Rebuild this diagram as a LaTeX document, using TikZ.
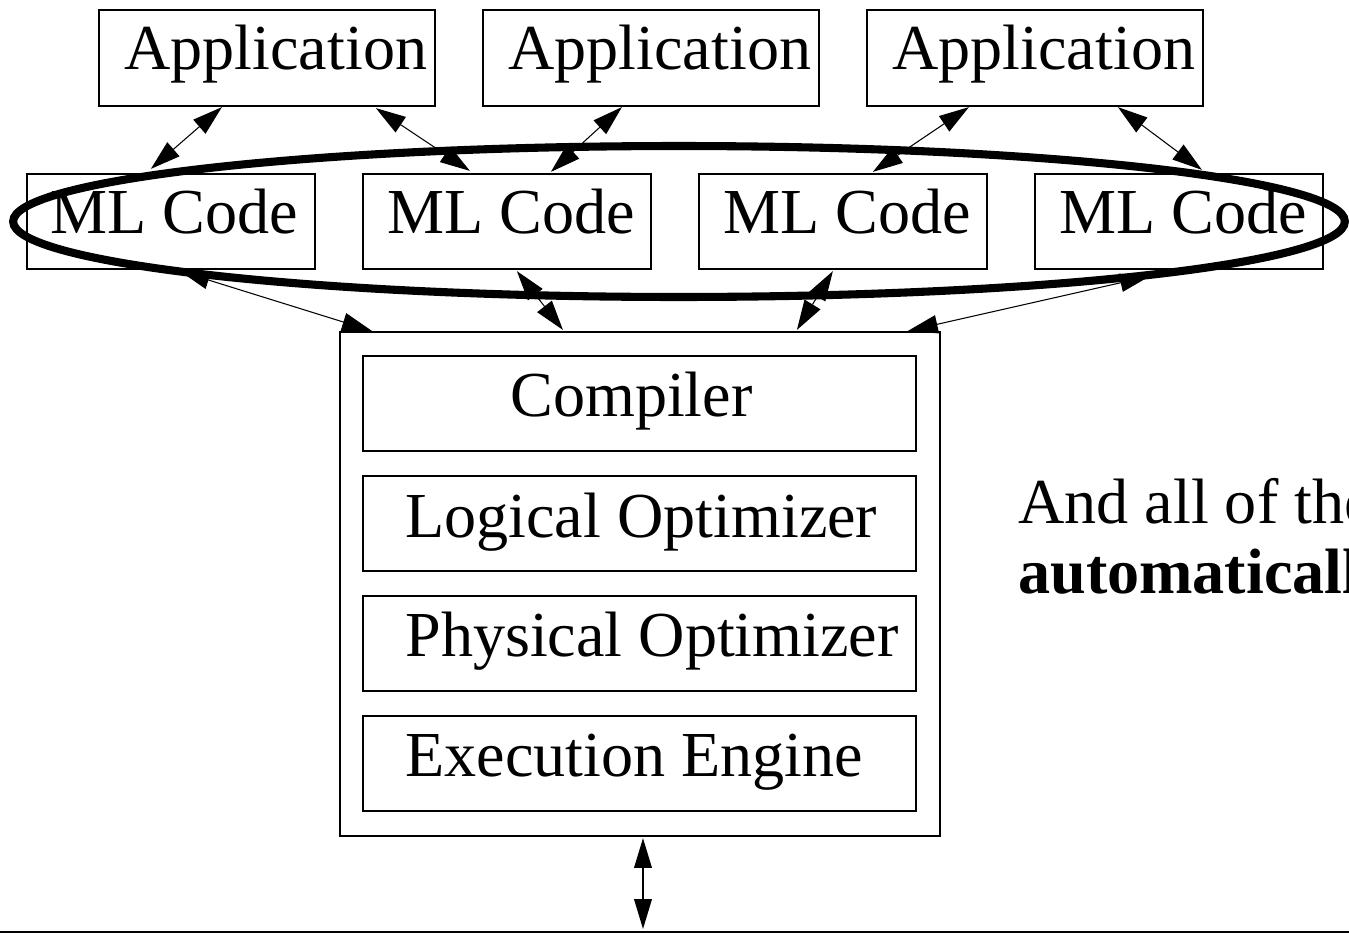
\documentclass[tikz,border=0pt]{standalone}
\usepackage{fontspec}
\setmainfont{Liberation Serif}
\usetikzlibrary{arrows.meta,calc}

\begin{document}
\begin{tikzpicture}[x=0.02cm,y=-0.02cm,
  box/.style={draw,line width=1.3pt,rectangle,inner sep=0pt},
  appbox/.style={box,minimum width=6.72cm,minimum height=1.92cm},
  mlbox/.style={box,minimum width=5.76cm,minimum height=1.90cm},
  stagebox/.style={box,minimum width=11.06cm,minimum height=1.90cm},
  outerbox/.style={box,minimum width=12cm,minimum height=10.08cm},
  txt/.style={anchor=base west,inner sep=0pt,font=\fontsize{36.5pt}{40pt}\selectfont},
  link/.style={{Triangle[length=17pt,width=10.5pt]}-{Triangle[length=17pt,width=10.5pt]},line width=0.6pt},
  iolink/.style={{Triangle[length=17pt,width=10pt]}-{Triangle[length=17pt,width=10pt]},line width=1.1pt},
  group/.style={line width=4.6pt},
]
\useasboundingbox (0,0) rectangle (1349,933);
\clip (0,0) rectangle (1349,933);

% applications
\node[appbox] (app1) at (267,58) {};
\node[appbox] (app2) at (651,58) {};
\node[appbox] (app3) at (1035,58) {};
\node[txt] (app1t) at (124,69) {Application};
\node[txt] (app2t) at (508,69) {Application};
\node[txt] (app3t) at (892,69) {Application};

% ML code blocks
\node[mlbox] (ml1) at (171,221.5) {};
\node[mlbox] (ml2) at (507,221.5) {};
\node[mlbox] (ml3) at (843,221.5) {};
\node[mlbox] (ml4) at (1179,221.5) {};
\node[txt] (ml1t) at (50,233) {ML Code};
\node[txt] (ml2t) at (387,233) {ML Code};
\node[txt] (ml3t) at (723,233) {ML Code};
\node[txt] (ml4t) at (1059,233) {ML Code};

% system stack
\node[outerbox] (sys) at (640,584) {};
\node[stagebox] (comp) at (639.5,403.5) {};
\node[stagebox] (logic) at (639.5,523.5) {};
\node[stagebox] (phys) at (639.5,643.5) {};
\node[stagebox] (exec) at (639.5,763.5) {};
\node[txt] (compt) at (510,416) {Compiler};
\node[txt] (logict) at (405,537) {Logical Optimizer};
\node[txt] (physt) at (405,656) {Physical Optimizer};
\node[txt] (exect) at (405,776) {Execution Engine};

% side remark
\node[txt] (note1) at (1018,523) {And all of the};
\node[txt,font=\fontsize{36.5pt}{40pt}\selectfont\bfseries] (note2) at (1018,593) {automaticall};

% application <-> ML code
\draw[link] ($(app1.south west)+(124,0)$) -- ($(ml1.north west)+(125,-4)$);
\draw[link] ($(app1.south west)+(278,1)$) -- ($(ml2.north west)+(108,-2)$);
\draw[link] ($(app2.south west)+(140,0)$) -- ($(ml2.north west)+(189,-1)$);
\draw[link] ($(app3.south west)+(103,0)$) -- ($(ml3.north west)+(175,-1)$);
\draw[link] ($(app3.south west)+(252,0)$) -- ($(ml4.north west)+(168,-3)$);

% ML code <-> system
\draw[link] ($(ml1.south west)+(154,1)$) -- ($(sys.north west)+(33,0)$);
\draw[link] ($(ml2.south west)+(155,1)$) -- ($(sys.north west)+(224,-1)$);
\draw[link] ($(ml3.south west)+(135,1)$) -- ($(sys.north west)+(458,-1)$);
\draw[link] ($(ml4.south west)+(116,6)$) -- ($(sys.north west)+(569,0)$);

% grouping of the ML code
\draw[group] (679,221.5) ellipse [x radius=13.32cm, y radius=1.51cm];

% system <-> storage
\coordinate (base) at (643,929);
\coordinate (floorL) at (0,932);
\coordinate (floorR) at (1349,932);
\draw[iolink] ($(sys.south)+(3,1)$) -- (base);
\draw[line width=0.75pt] (floorL) -- (floorR);
\end{tikzpicture}
\end{document}
